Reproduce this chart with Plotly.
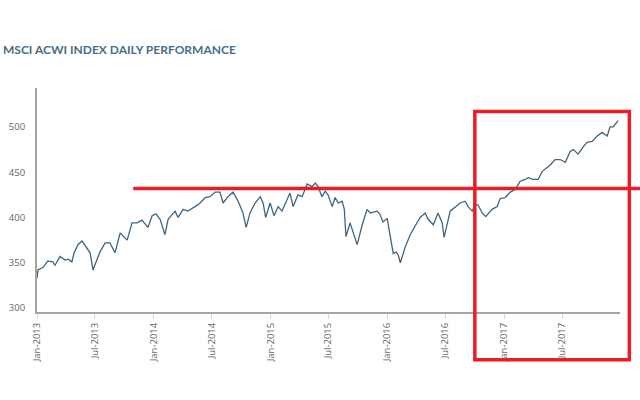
import plotly.graph_objects as go

dates = [
    "2013-01-01", "2013-01-04", "2013-01-20", "2013-02-04", "2013-02-20", "2013-02-26",
    "2013-03-14", "2013-03-30", "2013-04-08", "2013-04-20", "2013-04-27", "2013-05-09",
    "2013-05-22", "2013-06-06", "2013-06-16", "2013-06-25", "2013-07-08", "2013-07-17",
    "2013-08-02", "2013-08-17", "2013-09-02", "2013-09-18", "2013-10-10", "2013-10-25",
    "2013-11-10", "2013-11-25", "2013-12-14", "2013-12-27",
    "2014-01-08", "2014-01-21", "2014-02-05", "2014-02-15", "2014-03-09", "2014-03-18",
    "2014-04-03", "2014-04-18", "2014-05-10", "2014-05-26", "2014-06-11", "2014-06-26",
    "2014-07-12", "2014-07-27", "2014-08-06", "2014-08-21", "2014-09-06", "2014-09-22",
    "2014-10-07", "2014-10-17", "2014-10-29", "2014-11-14", "2014-11-30", "2014-12-09",
    "2014-12-17", "2014-12-31",
    "2015-01-12", "2015-01-25", "2015-02-06", "2015-02-22", "2015-03-03", "2015-03-13",
    "2015-03-28", "2015-04-10", "2015-04-26", "2015-05-11", "2015-05-21", "2015-05-30",
    "2015-06-11", "2015-06-21", "2015-06-30", "2015-07-13", "2015-07-22", "2015-08-01",
    "2015-08-13", "2015-08-20", "2015-08-25", "2015-09-07", "2015-09-16", "2015-09-29",
    "2015-10-15", "2015-10-30", "2015-11-09", "2015-12-01", "2015-12-10", "2015-12-19",
    "2016-01-01", "2016-01-10", "2016-01-20", "2016-01-29", "2016-02-05", "2016-02-11",
    "2016-02-26", "2016-03-13", "2016-03-28", "2016-04-13", "2016-04-29", "2016-05-08",
    "2016-05-24", "2016-06-08", "2016-06-21", "2016-06-27", "2016-07-16", "2016-07-31",
    "2016-08-16", "2016-09-01", "2016-09-10", "2016-09-23", "2016-10-02", "2016-10-11",
    "2016-10-24", "2016-11-04", "2016-11-24", "2016-12-10", "2016-12-19",
    "2017-01-04", "2017-01-20", "2017-02-04", "2017-02-20", "2017-03-07", "2017-03-17",
    "2017-04-01", "2017-04-17", "2017-04-30", "2017-05-15", "2017-05-25", "2017-06-09",
    "2017-06-25", "2017-07-11", "2017-07-26", "2017-08-05", "2017-08-20", "2017-09-05",
    "2017-09-17", "2017-10-03", "2017-10-19", "2017-11-03", "2017-11-19", "2017-11-28",
    "2017-12-08", "2017-12-23",
]

values = [
    333, 342, 345, 352, 351, 347,
    357, 353, 354, 351, 361, 370,
    374, 366, 361, 342, 353, 362,
    372, 372, 361, 383, 375, 394,
    394, 397, 389, 402,
    404, 398, 381, 398, 407, 400,
    409, 407, 412, 416, 422, 423,
    428, 428, 416, 423, 428, 418,
    405, 389, 405, 416, 423, 416,
    400, 416,
    402, 412, 407, 420, 427, 412,
    425, 423, 437, 434, 438, 434,
    423, 429, 425, 412, 422, 416,
    418, 409, 379, 394, 383, 370,
    392, 409, 405, 407, 403, 395,
    399, 380, 360, 362, 358, 350,
    367, 381, 390, 400, 405, 398,
    392, 405, 394, 378, 407, 411,
    416, 418, 412, 407, 414, 414,
    405, 401, 409, 412, 421,
    422, 428, 431, 440, 442, 444,
    442, 442, 451, 455, 458, 464,
    464, 461, 473, 475, 470, 478,
    483, 484, 490, 494, 490, 500,
    500, 507,
]

tick_vals = ["2013-01-01", "2013-07-01", "2014-01-01", "2014-07-01", "2015-01-01",
             "2015-07-01", "2016-01-01", "2016-07-01", "2017-01-01", "2017-07-01"]
tick_text = ["Jan-2013", "Jul-2013", "Jan-2014", "Jul-2014", "Jan-2015",
             "Jul-2015", "Jan-2016", "Jul-2016", "Jan-2017", "Jul-2017"]
y_ticks = [300, 350, 400, 450, 500]

title_text = "MSCI ACWI INDEX DAILY PERFORMANCE"

fig = go.Figure()
fig.add_trace(go.Scatter(
    x=dates, y=values, mode="lines",
    line=dict(color="#3e6580", width=1.3),
    hoverinfo="skip", showlegend=False,
))

red = "#ec1c24"
fig.update_layout(
    width=640, height=400,
    margin=dict(l=37, r=20, t=88, b=88),
    paper_bgcolor="white", plot_bgcolor="white",
    xaxis=dict(
        range=["2013-01-01", "2017-12-29"],
        tickvals=tick_vals, ticktext=tick_text, tickangle=-90,
        ticks="outside", ticklen=5, tickcolor="#c9d9ec", tickwidth=1,
        tickfont=dict(family="Open Sans", size=9.5, color="#666666"),
        showgrid=False, zeroline=False, automargin=False,
        showline=True, linecolor="#aaa39b", linewidth=2,
    ),
    yaxis=dict(
        range=[295.6, 543],
        tickvals=y_ticks, ticks="",
        ticklabelstandoff=8,
        tickfont=dict(family="Open Sans", size=9.5, color="#666666"),
        showgrid=False, zeroline=False, automargin=False,
        showline=True, linecolor="#aaa39b", linewidth=2,
    ),
    annotations=[
        dict(text=title_text, xref="paper", yref="paper", x=-0.062, y=1.174,
             xanchor="left", yanchor="middle", showarrow=False,
             font=dict(family="Lato", size=12, color="#4a6d88", weight="bold")),
    ],
    shapes=[
        dict(type="line", xref="paper", yref="paper", x0=0.165, x1=1.04, y0=0.551, y1=0.551,
             line=dict(color=red, width=3.5)),
        dict(type="rect", xref="paper", yref="paper", x0=0.751, x1=1.016, y0=-0.213, y1=0.895,
             line=dict(color=red, width=3.5), fillcolor="rgba(0,0,0,0)"),
    ],
)

fig.write_html("out.html", config={"displayModeBar": False},
               post_script="document.body.style.margin='0';")
